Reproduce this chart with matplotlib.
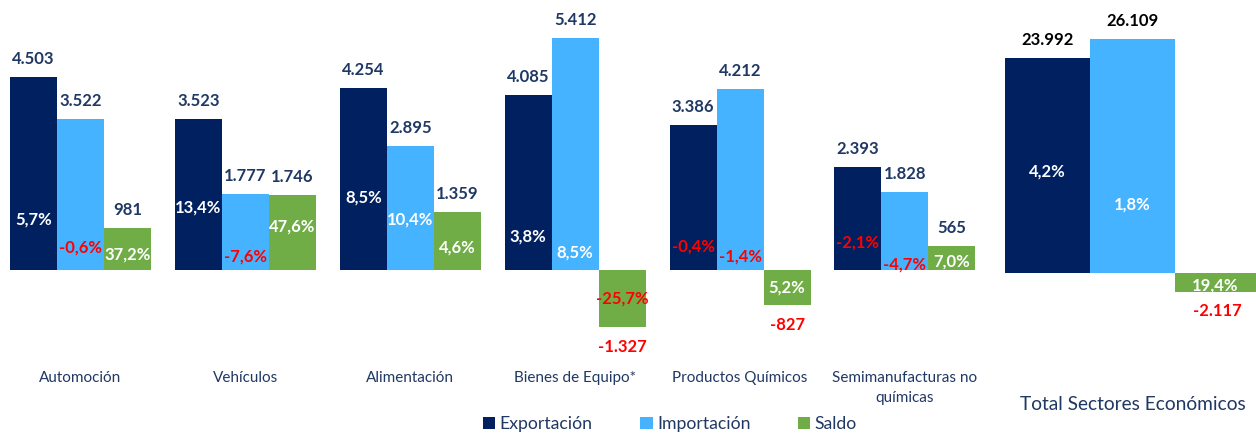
import matplotlib
matplotlib.use("Agg")
import matplotlib.pyplot as plt
from matplotlib.patches import Patch
import numpy as np

plt.rcParams['font.family'] = ['Lato', 'DejaVu Sans']

# ---------------- data ----------------
categories = ["Automoción", "Vehículos", "Alimentación", "Bienes de Equipo*",
              "Productos Químicos", "Semimanufacturas no\nquímicas"]
exportacion = [4503, 3523, 4254, 4085, 3386, 2393]
importacion = [3522, 1777, 2895, 5412, 4212, 1828]
saldo = [981, 1746, 1359, -1327, -827, 565]
var_export = ["5,7%", "13,4%", "8,5%", "3,8%", "-0,4%", "-2,1%"]
var_import = ["-0,6%", "-7,6%", "10,4%", "8,5%", "-1,4%", "-4,7%"]
var_saldo = ["37,2%", "47,6%", "4,6%", "-25,7%", "5,2%", "7,0%"]

total_category = "Total Sectores Económicos"
total_values = [23992, 26109, -2117]
total_var = ["4,2%", "1,8%", "19,4%"]

series_names = ["Exportación", "Importación", "Saldo"]

# ---------------- layout / style ----------------
W, H = 1256, 433
C_EXP, C_IMP, C_SAL = "#002060", "#45B3FF", "#70AD47"
C_LAB = "#203864"
C_NEG = "#FF0000"
FS_VAL = 12

# pixel offsets (above zero line) for the growth labels inside the bars
pct_off_left = [[50, 22, 15], [62, 13, 43], [72, 50, 22],
                [33, 17, -29], [23, 13, -18], [27, 5, 8]]
pct_off_total = [101, 68, -13]

fig = plt.figure(figsize=(W / 100, H / 100), dpi=100)

def fmt(v):
    s = f"{abs(v):,}".replace(",", ".")
    return ("-" if v < 0 else "") + s

axes_bottom_px = 365

def make_axes(x0, x1, zero_px, px_per_unit):
    ax = fig.add_axes([x0 / W, 1 - axes_bottom_px / H, (x1 - x0) / W, axes_bottom_px / H])
    ax.set_ylim(-(axes_bottom_px - zero_px) / px_per_unit, zero_px / px_per_unit)
    for s in ax.spines.values():
        s.set_visible(False)
    ax.tick_params(axis="both", length=0)
    ax.set_yticks([])
    return ax

# ---------- left panel ----------
s_left = 0.04286
axL = make_axes(0, 990, 270, s_left)
period = 164.9
axL.set_xlim(-80.5 / period, (990 - 80.5) / period)
bw = 47 / period
x = np.arange(len(categories))
colors = [C_EXP, C_IMP, C_SAL]
data = [exportacion, importacion, saldo]
pcts = [var_export, var_import, var_saldo]
for k in range(3):
    xs = x + (k - 1) * bw
    axL.bar(xs, data[k], width=bw, color=colors[k], edgecolor="none")
    for i, v in enumerate(data[k]):
        if v >= 0:
            axL.text(xs[i], v + 18 / s_left, fmt(v), ha="center", va="center",
                     fontsize=FS_VAL, fontweight="bold", color=C_LAB)
        else:
            axL.text(xs[i], v - 20 / s_left, fmt(v), ha="center", va="center",
                     fontsize=FS_VAL, fontweight="bold", color=C_NEG)
        p = pcts[k][i]
        axL.text(xs[i], pct_off_left[i][k] / s_left, p, ha="center", va="center",
                 fontsize=FS_VAL, fontweight="bold",
                 color=C_NEG if p.startswith("-") else "white")
axL.set_xticks(x)
axL.set_xticklabels(categories, fontsize=11, color=C_LAB, linespacing=1.55)
axL.tick_params(axis="x", pad=4)

# ---------- right panel ----------
s_right = 0.00895
axR = make_axes(990, 1256, 272.7, s_right)
ppu = 85 / 0.3
axR.set_xlim((990 - 1132.5) / ppu, (1256 - 1132.5) / ppu)
bwr = 0.3
for k in range(3):
    xr = (k - 1) * bwr
    v = total_values[k]
    axR.bar(xr, v, width=bwr, color=colors[k], edgecolor="none")
    if v >= 0:
        axR.text(xr, v + 18 / s_right, fmt(v), ha="center", va="center",
                 fontsize=FS_VAL, fontweight="bold", color="black")
    else:
        axR.text(xr, v - 19 / s_right, fmt(v), ha="center", va="center",
                 fontsize=FS_VAL, fontweight="bold", color=C_NEG)
    p = total_var[k]
    xc = xr
    if k == 2:
        xc = ((1175 + 1256) / 2 - 1132.5) / ppu
    axR.text(xc, pct_off_total[k] / s_right, p, ha="center", va="center",
             fontsize=FS_VAL, fontweight="bold",
             color=C_NEG if p.startswith("-") else "white")
axR.set_xticks([0])
axR.set_xticklabels([total_category], fontsize=13.8, color=C_LAB)
axR.tick_params(axis="x", pad=22)

# ---------- legend ----------
handles = [Patch(facecolor=c, edgecolor="none", label=n) for c, n in zip(colors, series_names)]
fig.legend(handles=handles, loc="center", bbox_to_anchor=(670 / W, 1 - 424 / H),
           ncol=3, frameon=False, fontsize=12.7, handlelength=0.7, handleheight=0.7,
           handletextpad=0.25, columnspacing=2.7, labelcolor=C_LAB,
           borderpad=0, borderaxespad=0)

fig.savefig("out.png", dpi=100)
